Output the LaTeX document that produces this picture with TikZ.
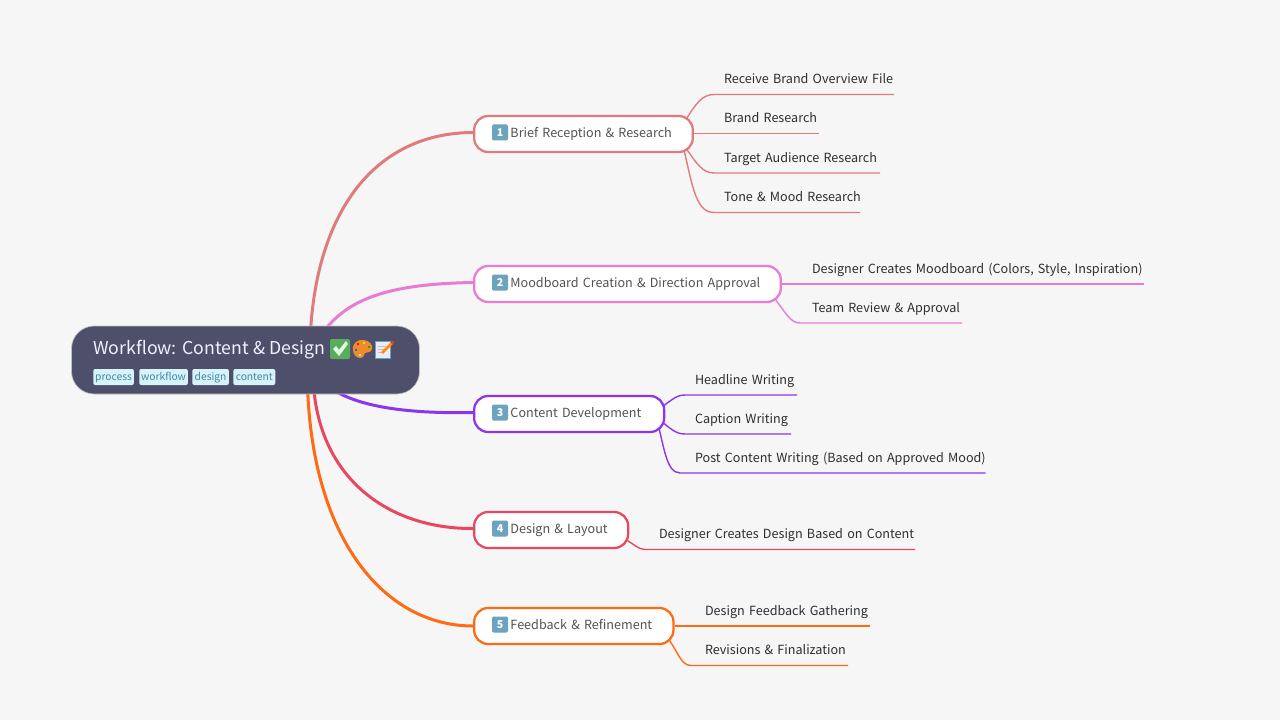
\documentclass[tikz,border=0pt]{standalone}
\usepackage{fontspec}
\setmainfont{Noto Sans CJK SC}
\usetikzlibrary{calc,backgrounds}
\definecolor{bgc}{HTML}{F6F6F6}
\definecolor{rootc}{HTML}{4D4F6B}
\definecolor{cA}{HTML}{E07B7B}
\definecolor{cB}{HTML}{E97BD3}
\definecolor{cC}{HTML}{8B36EE}
\definecolor{cD}{HTML}{E8485F}
\definecolor{cE}{HTML}{FF6A14}
\definecolor{tagf}{HTML}{D6F2FB}
\definecolor{tagt}{HTML}{43889F}
\definecolor{keyc}{HTML}{6CA3BF}
\newcommand{\labelfont}{\fontsize{9.45pt}{12pt}\selectfont\spaceskip .17em\relax}
\newcommand{\titlefont}{\fontsize{13.3pt}{16pt}\selectfont\spaceskip .24em\relax}
\tikzset{
  x=0.75pt,y=-0.75pt,
  topicbox/.style={draw=#1,line width=1.7pt,fill=white,rounded corners=10.5pt,minimum height=27pt,inner xsep=14.25pt,inner ysep=0pt,anchor=west,align=left,text=black!68,font=\labelfont,text height=8pt,text depth=2.5pt},
  subnode/.style={anchor=south west,inner sep=0pt,outer sep=0pt,align=left,text=black!82,font=\labelfont,text height=9pt,text depth=8.1pt},
  mainline/.style={draw=#1,line width=2.25pt},
  subline/.style={draw=#1,line width=1.05pt},
  keycap/.style={fill=keyc,rounded corners=1pt,minimum size=12pt,inner sep=0pt,text=white,font=\fontsize{8pt}{8pt}\selectfont\bfseries},
  tagnode/.style={fill=tagf,rounded corners=1.5pt,inner sep=0pt,minimum height=12pt,text=tagt,font=\fontsize{7.7pt}{9pt}\selectfont,anchor=west,text height=6.5pt,text depth=2pt},
}
\newcommand{\blob}[2]{\fill[#1] #2 circle (0.9pt);}
\begin{document}
\begin{tikzpicture}
\useasboundingbox (0,0) rectangle (1280,720);
% root
\node[draw=black!25,line width=0.5pt,fill=rootc,rounded corners=17pt,minimum width=261pt,minimum height=51pt,inner sep=0pt] (root) at (245.5,360) {};
\node[anchor=west,inner sep=0pt,text=white!94!blue,font=\titlefont] (title) at (93,349.5) {Workflow: Content \& Design};
\node[tagnode,minimum width=30.5pt] (tg1) at (93,377) {process};
\node[tagnode,minimum width=36.5pt] (tg2) at (139,377) {workflow};
\node[tagnode,minimum width=27.5pt] (tg3) at (192,377) {design};
\node[tagnode,minimum width=31.5pt] (tg4) at (233,377) {content};
% emoji: check
\fill[green!50!black!65!white,rounded corners=1pt] (330,339) rectangle (350,359);
\fill[white!90!green] (333,349) -- (336,346) -- (339,350) -- (346,341) -- (348,344) -- (339,356) -- cycle;
% emoji: palette
\fill[orange!70!brown!90!white,even odd rule] (353,350) .. controls (352,343) and (358,339) .. (364,340) .. controls (370,341) and (373,345) .. (372,349) .. controls (371,353) and (367,352) .. (365,353) .. controls (363,354) and (365,358) .. (360,358) .. controls (356,358) and (353,354) .. (353,350) -- cycle;
\blob{red!80!black}{(358,344)}
\blob{yellow!90!orange}{(364,343)}
\blob{green!60!black}{(369,347)}
\blob{blue!70!cyan}{(356,350)}
\blob{white}{(360,355)}
% emoji: memo
\fill[white!92!blue,draw=keyc,line width=0.7pt] (375,341) rectangle (390,358);
\draw[black!25,line width=0.4pt] (378,346)--(386,346) (378,349)--(384,349) (378,352)--(382,352);
\draw[orange!90!yellow,line width=2pt] (382,353) -- (392,343);
\draw[red!80!white,line width=2pt] (391.5,343.5) -- (393.5,341.5);
% topics
\node[topicbox=cA,text width=135.5pt] (t1) at (473,134) {\hspace*{13pt}\mbox{Brief Reception \& Research}};
\node[keycap] (k1) at ($(t1.west)+(27,-1.5)$) {1};
\node[topicbox=cB,text width=201.5pt] (t2) at (473,284) {\hspace*{13pt}\mbox{Moodboard Creation \& Direction Approval}};
\node[keycap] (k2) at ($(t2.west)+(27,-1.5)$) {2};
\node[topicbox=cC,text width=114pt] (t3) at (473,414) {\hspace*{13pt}\mbox{Content Development}};
\node[keycap] (k3) at ($(t3.west)+(27,-1.5)$) {3};
\node[topicbox=cD,text width=87pt] (t4) at (473,530) {\hspace*{13pt}\mbox{Design \& Layout}};
\node[keycap] (k4) at ($(t4.west)+(27,-1.5)$) {4};
\node[topicbox=cE,text width=121pt] (t5) at (473,626) {\hspace*{13pt}\mbox{Feedback \& Refinement}};
\node[keycap] (k5) at ($(t5.west)+(27,-1.5)$) {5};
% subtopics
\node[subnode,text width=127.5pt] (a1) at (724,94.5) {\mbox{Receive Brand Overview File}};
\node[subnode,text width=71.25pt] (a2) at (724,133.5) {\mbox{Brand Research}};
\node[subnode,text width=117pt] (a3) at (724,173) {\mbox{Target Audience Research}};
\node[subnode,text width=102pt] (a4) at (724,212.5) {\mbox{Tone \& Mood Research}};
\node[subnode,text width=249pt] (b1) at (812,284) {\mbox{Designer Creates Moodboard (Colors, Style, Inspiration)}};
\node[subnode,text width=112.5pt] (b2) at (812,323) {\mbox{Team Review \& Approval}};
\node[subnode,text width=76.5pt] (c1) at (695,395) {\mbox{Headline Writing}};
\node[subnode,text width=72pt] (c2) at (695,434) {\mbox{Caption Writing}};
\node[subnode,text width=218pt] (c3) at (695,473) {\mbox{Post Content Writing (Based on Approved Mood)}};
\node[subnode,text width=192pt] (d1) at (659,549.5) {\mbox{Designer Creates Design Based on Content}};
\node[subnode,text width=124pt] (e1) at (705,626) {\mbox{Design Feedback Gathering}};
\node[subnode,text width=107.25pt] (e2) at (705,665.5) {\mbox{Revisions \& Finalization}};
% connectors
\begin{scope}[on background layer]
\fill[bgc] (0,0) rectangle (1280,720);
\draw[mainline=cA] ($(root.center)+(65,-28)$) .. controls (317,215) and (372,133) .. (t1.west |- k1);
\draw[mainline=cB] ($(root.center)+(75,-24)$) .. controls (345,300) and (385,284) .. (t2.west |- k2);
\draw[mainline=cC] ($(root.center)+(85,28)$) .. controls (355,405) and (400,414) .. (t3.west |- k3);
\draw[mainline=cD] ($(root.center)+(68,25)$) .. controls (320,480) and (390,529) .. (t4.west |- k4);
\draw[mainline=cE] ($(root.center)+(62,25)$) .. controls (312,540) and (385,626) .. (t5.west);
\draw[subline=cA] ($(t1.east)+(-12,-8)$) .. controls (696,103) and (702,94.5) .. ($(a1.south west)+(-10,0)$) -- (a1.south east);
\draw[subline=cA] (t1.east |- a2.south) -- (a2.south east);
\draw[subline=cA] ($(t1.east)+(-12,8)$) .. controls (696,163) and (702,173) .. ($(a3.south west)+(-10,0)$) -- (a3.south east);
\draw[subline=cA] ($(t1.east)+(-12,8)$) .. controls (692,180) and (694,212.5) .. ($(a4.south west)+(-10,0)$) -- (a4.south east);
\draw[subline=cB] (t2.east |- b1.south) -- (b1.south east);
\draw[subline=cB] ($(t2.east)+(-12,8)$) .. controls (786,313) and (790,323) .. ($(b2.south west)+(-12,0)$) -- (b2.south east);
\draw[subline=cC] ($(t3.east)+(-8,-4)$) .. controls (670,402) and (675,395) .. ($(c1.south west)+(-10,0)$) -- (c1.south east);
\draw[subline=cC] ($(t3.east)+(-8,4)$) .. controls (670,428) and (675,434) .. ($(c2.south west)+(-10,0)$) -- (c2.south east);
\draw[subline=cC] ($(t3.east)+(-8,8)$) .. controls (664,445) and (666,473) .. ($(c3.south west)+(-15,0)$) -- (c3.south east);
\draw[subline=cD] ($(t4.east)+(-6,8)$) .. controls (634,544) and (638,549.5) .. ($(d1.south west)+(-13,0)$) -- (d1.south east);
\draw[subline=cE] (t5.east |- e1.south) -- (e1.south east);
\draw[subline=cE] ($(t5.east)+(-10,8)$) .. controls (678,650) and (680,665.5) .. ($(e2.south west)+(-14,0)$) -- (e2.south east);
\end{scope}
\end{tikzpicture}
\end{document}
